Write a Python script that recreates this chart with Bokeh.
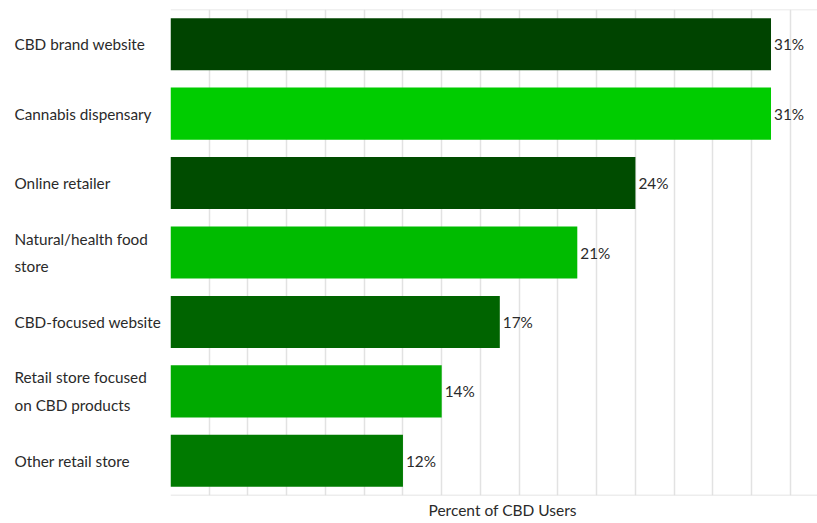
from bokeh.plotting import figure
from bokeh.layouts import row
from bokeh.models import ColumnDataSource, Range1d, FactorRange, Span, Grid, SingleIntervalTicker, Title
from bokeh.core.properties import value
from bokeh.embed import file_html
from bokeh.resources import INLINE

categories = ["CBD brand website", "Cannabis dispensary", "Online retailer",
              "Natural/health food\nstore", "CBD-focused website",
              "Retail store focused\non CBD products", "Other retail store"]
percents = [31, 31, 24, 21, 17, 14, 12]
labels = ["31%", "31%", "24%", "21%", "17%", "14%", "12%"]
colors = ["#004400", "#00cc00", "#004c00", "#00bb00", "#006400", "#00aa00", "#007a00"]

FONT = "Lato"
TEXT_COLOR = "#2a2a2a"
H = 523
TOP = 9
BOTTOM = 28

yr = FactorRange(factors=list(reversed(categories)))

src = ColumnDataSource(dict(cat=categories, val=percents, lab=labels, col=colors))

# left panel with category labels
left = figure(width=170, height=H, y_range=yr, x_range=Range1d(0, 170),
              output_backend="svg", toolbar_location=None,
              x_axis_location=None, y_axis_location=None,
              min_border_left=0, min_border_right=0,
              min_border_top=TOP, min_border_bottom=BOTTOM)
left.outline_line_color = None
left.grid.visible = False
left.text(x=14, y="cat", text="cat", source=src, text_align="left",
          text_baseline="middle", text_font=value(FONT), text_font_size="15.3px",
          text_color=TEXT_COLOR, text_line_height=1.55)

# main chart
p = figure(width=817 - 170, height=H, y_range=yr, x_range=Range1d(0, 33.4),
           output_backend="svg", toolbar_location=None,
           x_axis_location=None, y_axis_location=None,
           min_border_left=0, min_border_right=0,
           min_border_top=TOP, min_border_bottom=BOTTOM)
p.outline_line_color = None
p.grid.visible = False
p.add_layout(Grid(dimension=0, ticker=SingleIntervalTicker(interval=2),
                  grid_line_color="#e2e2e2", grid_line_width=1.5))
p.add_layout(Span(location=0, dimension="width", line_color="#dcdcdc", line_width=1.5))
p.add_layout(Span(location=len(categories), dimension="width", line_color="#e2e2e2", line_width=1.5))

p.hbar(y="cat", right="val", left=0, height=0.75, color="col", line_color=None, source=src)
p.text(x="val", y="cat", text="lab", source=src, x_offset=3, text_align="left",
       text_baseline="middle", text_font=value(FONT), text_font_size="15.3px",
       text_color=TEXT_COLOR)

p.add_layout(Title(text="Percent of CBD Users", align="left", offset=258,
                   text_font=FONT, text_font_size="15.5px", text_font_style="normal",
                   text_color=TEXT_COLOR, standoff=6), "below")

layout = row(left, p, spacing=0)
open("out.html", "w").write(file_html(layout, INLINE))
